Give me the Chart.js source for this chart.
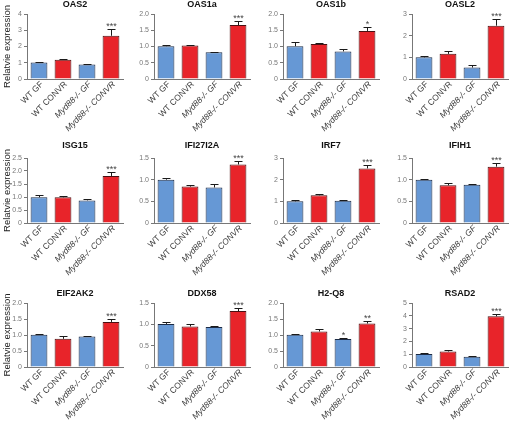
<!DOCTYPE html>
<html>
<head>
<meta charset="utf-8">
<script src="https://cdn.jsdelivr.net/npm/chart.js@4"></script>
<style>
  html, body { margin: 0; padding: 0; background: #fff; }
  #wrap { position: relative; width: 510px; height: 421px; overflow: hidden; }
  #wrap canvas { position: absolute; }
</style>
</head>
<body>
<div id="wrap"></div>
<script>
// Gene expression panels, 4 x 3 grid

const genes = ['OAS2', 'OAS1a', 'OAS1b', 'OASL2', 'ISG15', 'IFI27I2A', 'IRF7', 'IFIH1', 'EIF2AK2', 'DDX58', 'H2-Q8', 'RSAD2'];
const groups = ['WT GF', 'WT CONVR', 'Myd88-/- GF', 'Myd88-/- CONVR'];

const meanValues = [
    [1.01, 1.18, 0.89, 2.66],
    [1.01, 1.03, 0.82, 1.66],
    [1.01, 1.08, 0.85, 1.48],
    [1.00, 1.16, 0.53, 2.46],
    [0.99, 0.99, 0.87, 1.81],
    [1.00, 0.84, 0.82, 1.35],
    [1.00, 1.28, 1.03, 2.52],
    [1.00, 0.87, 0.88, 1.30],
    [1.01, 0.88, 0.95, 1.41],
    [1.01, 0.95, 0.94, 1.31],
    [1.01, 1.11, 0.875, 1.36],
    [1.01, 1.21, 0.81, 3.96]
];
const errValues = [
    [0.03, 0.06, 0.02, 0.41],
    [0.03, 0.03, 0.02, 0.12],
    [0.12, 0.04, 0.08, 0.12],
    [0.08, 0.14, 0.10, 0.31],
    [0.09, 0.05, 0.04, 0.14],
    [0.04, 0.04, 0.07, 0.07],
    [0.06, 0.06, 0.04, 0.17],
    [0.02, 0.06, 0.03, 0.09],
    [0.03, 0.08, 0.03, 0.09],
    [0.04, 0.05, 0.03, 0.08],
    [0.02, 0.08, 0.025, 0.09],
    [0.08, 0.08, 0.05, 0.21]
];
const stars = [
    ['', '', '', '***'], ['', '', '', '***'], ['', '', '', '*'], ['', '', '', '***'],
    ['', '', '', '***'], ['', '', '', '***'], ['', '', '', '***'], ['', '', '', '***'],
    ['', '', '', '***'], ['', '', '', '***'], ['', '', '*', '**'], ['', '', '', '***']
];
const yMax = [4, 2, 2, 3, 2.5, 1.5, 3, 1.5, 2, 1.5, 2, 5];
const yStep = [1, 0.5, 0.5, 1, 0.5, 0.5, 1, 0.5, 0.5, 0.5, 0.5, 1];
const yTitle = 'Relatvie expression';

// layout (px)
const FONT = '"Liberation Sans", Arial, sans-serif';
const colLeft = [0, 127, 256, 385];
const rowTop = [0, 140, 284];
const rowHeight = [140, 144, 137];
const plotTop = [14, 158, 303];
const plotBottom = [79, 223, 367];
const titleY = [5, 146, 294];
const PANEL_W = 125;
const AXIS_W = 27;

const fills = ['#6698d5', '#e8242a', '#6698d5', '#e8242a'];
const borders = ['#1c2b45', '#4a1012', '#1c2b45', '#4a1012'];

function panelPlugin(k, r) {
    return {
        id: 'panel' + k,
        afterDatasetsDraw(chart) {
            const ctx = chart.ctx;
            const y = chart.scales.y;
            const a = chart.chartArea;
            const meta = chart.getDatasetMeta(0);
            ctx.save();
            ctx.strokeStyle = '#1a1a1a';
            ctx.lineWidth = 1;
            meta.data.forEach((bar, i) => {
                const x = Math.round(bar.x) + 0.5;
                const top = Math.round(y.getPixelForValue(meanValues[k][i] + errValues[k][i])) + 0.5;
                ctx.beginPath();
                ctx.moveTo(x, bar.y);
                ctx.lineTo(x, top);
                ctx.moveTo(x - 4, top);
                ctx.lineTo(x + 4, top);
                ctx.stroke();
                if (stars[k][i]) {
                    ctx.fillStyle = '#444';
                    ctx.font = '9px ' + FONT;
                    ctx.textAlign = 'center';
                    ctx.textBaseline = 'alphabetic';
                    ctx.fillText(stars[k][i], x, top - 1);
                }
                // rotated category label, ending under the bar centre
                ctx.save();
                ctx.translate(bar.x + 3, a.bottom + 4);
                ctx.rotate(-Math.PI / 4);
                ctx.fillStyle = '#3a3a3a';
                ctx.font = (i >= 2 ? 'italic ' : '') + '8.5px ' + FONT;
                ctx.textAlign = 'right';
                ctx.textBaseline = 'middle';
                ctx.fillText(groups[i], 0, 0);
                ctx.restore();
            });
            // gene name
            ctx.fillStyle = '#111';
            ctx.font = 'bold 9px ' + FONT;
            ctx.textAlign = 'center';
            ctx.textBaseline = 'middle';
            ctx.fillText(genes[k], (a.left + a.right) / 2, titleY[r] - rowTop[r]);
            ctx.restore();
        }
    };
}

const wrap = document.getElementById('wrap');

genes.forEach((gene, k) => {
    const r = Math.floor(k / 4);
    const c = k % 4;
    const canvas = document.createElement('canvas');
    canvas.width = PANEL_W;
    canvas.height = rowHeight[r];
    canvas.style.left = colLeft[c] + 'px';
    canvas.style.top = rowTop[r] + 'px';
    wrap.appendChild(canvas);

    const xHeight = rowTop[r] + rowHeight[r] - plotBottom[r];

    new Chart(canvas, {
        type: 'bar',
        data: {
            labels: groups,
            datasets: [{
                data: meanValues[k],
                backgroundColor: fills,
                borderColor: borders,
                borderWidth: 1,
                barPercentage: 0.7,
                categoryPercentage: 1
            }]
        },
        options: {
            responsive: false,
            animation: false,
            layout: { padding: { top: plotTop[r] - rowTop[r], right: 2, bottom: 0, left: 0 } },
            plugins: {
                legend: { display: false },
                tooltip: { enabled: false }
            },
            scales: {
                x: {
                    grid: { display: false, drawTicks: false },
                    border: { display: true, color: '#777', width: 1 },
                    ticks: { display: false },
                    afterFit: (s) => { s.height = xHeight; }
                },
                y: {
                    min: 0,
                    max: yMax[k],
                    grid: { display: true, drawOnChartArea: false, drawTicks: true, tickLength: 3, color: '#777' },
                    border: { display: true, color: '#777', width: 1 },
                    ticks: {
                        stepSize: yStep[k],
                        padding: 2,
                        color: '#777',
                        font: { size: 7, family: FONT },
                        callback: (v) => v === 0 ? '0' : (yStep[k] < 1 ? v.toFixed(1) : String(v))
                    },
                    title: {
                        display: c === 0,
                        text: yTitle,
                        color: '#222',
                        font: { size: 9.5, family: FONT },
                        padding: { top: 2, bottom: 0 }
                    },
                    afterFit: (s) => { s.width = AXIS_W; }
                }
            }
        },
        plugins: [panelPlugin(k, r)]
    });
});
</script>
</body>
</html>
